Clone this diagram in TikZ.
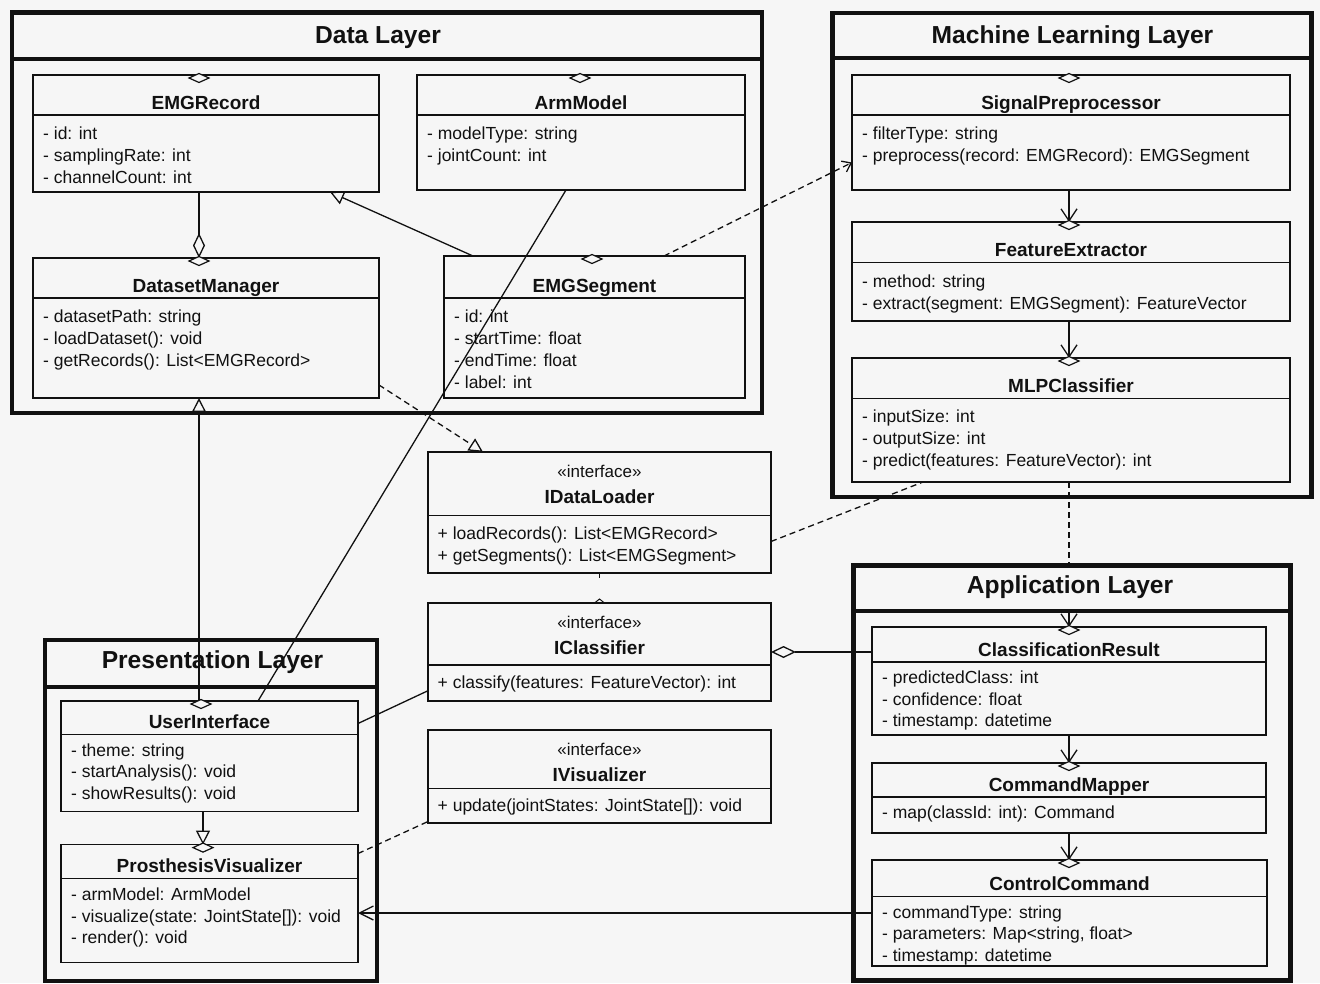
\documentclass[tikz,border=0pt]{standalone}
\usepackage{fontspec}
\setmainfont{Liberation Sans}
\usetikzlibrary{arrows.meta,calc}

\definecolor{paper}{RGB}{246,246,246}
\definecolor{ink}{RGB}{17,17,17}

% spacing of member lines (baseline skip and first baseline below the separator)
\def\bodyskip{22}
\def\bodyoff{24.3}

\tikzset{
  layerframe/.style={draw=ink, line width=4.5pt, inner sep=0pt, outer sep=0pt},
  layersep/.style={draw=ink, line width=4pt},
  layertitle/.style={font=\fontsize{24.6}{28}\selectfont\bfseries, text=ink, inner sep=0pt},
  classbox/.style={draw=ink, fill=paper, line width=1.3pt, inner sep=0pt, outer sep=0pt},
  sepline/.style={draw=ink, line width=1.3pt},
  classtitle/.style={font=\fontsize{19}{22}\selectfont\bfseries, text=ink, inner sep=0pt},
  stereo/.style={font=\fontsize{17}{20}\selectfont, text=ink, inner sep=0pt},
  members/.style={font=\fontsize{17.5}{\bodyskip}\selectfont, text=ink, align=left, inner sep=0pt},
  conn/.style={draw=ink, line width=1.3pt},
  dep/.style={conn, dash pattern=on 6pt off 4pt},
  gen/.style={-{Triangle[open, length=14pt, width=14pt]}},
  nav/.style={-{Straight Barb[length=12pt, width=16pt]}},
  agg/.style={-{Diamond[open, length=25pt, width=12pt]}},
  enddia/.style={draw=ink, fill=paper, line width=1.2pt},
}

% layer frame: name, left, top, right, bottom, title separator, title x, title baseline, title
\newcommand\umllayer[9]{%
  \node[layerframe, minimum width={(#4)-(#2)}, minimum height={(#5)-(#3)}]
    (#1) at ({((#2)+(#4))/2},{((#3)+(#5))/2}) {};
  \draw[layersep] (#2,#6) -- (#4,#6);
  \node[layertitle, anchor=base] (#1-title) at (#7,#8) {#9};
}

% class box: name, left, top, right, bottom, separator, title, members
\newcommand\umlclass[8]{%
  \node[classbox, minimum width={(#4)-(#2)}, minimum height={(#5)-(#3)}]
    (#1) at ({((#2)+(#4))/2},{((#3)+(#5))/2}) {};
  \draw[sepline] (#2,#6) -- (#4,#6);
  \node[classtitle, anchor=base] (#1-title) at ({((#2)+(#4))/2},{(#6)-6}) {#7};
  \node[members, anchor=north west] (#1-members)
    at ({(#2)+10},{(#6)+\bodyoff-0.7*\bodyskip}) {\strut #8};
}

% interface box: name, left, top, right, bottom, separator, title, operations
\newcommand\umliface[8]{%
  \node[classbox, minimum width={(#4)-(#2)}, minimum height={(#5)-(#3)}]
    (#1) at ({((#2)+(#4))/2},{((#3)+(#5))/2}) {};
  \draw[sepline] (#2,#6) -- (#4,#6);
  \node[stereo, anchor=base] (#1-stereo) at ({((#2)+(#4))/2},{(#3)+25}) {«interface»};
  \node[classtitle, anchor=base] (#1-title) at ({((#2)+(#4))/2},{(#3)+51.5}) {#7};
  \node[members, anchor=north west] (#1-members)
    at ({(#2)+9.5},{(#6)+\bodyoff-0.7*\bodyskip}) {\strut #8};
}

% small flat diamond sitting on the top edge of a class box
\newcommand\topdia[2]{%
  \filldraw[enddia] ({#1-10},{#2+3}) -- (#1,{#2-1.5}) -- ({#1+10},{#2+3}) -- (#1,{#2+7.5}) -- cycle;
}

\begin{document}
\begin{tikzpicture}[x=1pt, y=-1pt]
  \useasboundingbox (0,0) rectangle (1320,983);
  \fill[paper] (0,0) rectangle (1320,983);

  % ---------------- layers ----------------
  \umllayer{datalayer}{12}{12.5}{762}{413}{59}{378}{43.5}{Data Layer}
  \umllayer{mllayer}{832.7}{13}{1311.7}{497}{58}{1072.5}{43.5}{Machine Learning Layer}
  \umllayer{applayer}{853.3}{565.7}{1290.7}{980.5}{610.7}{1070}{593.3}{Application Layer}
  \umllayer{preslayer}{45}{640}{377}{981}{686.5}{212.5}{668.5}{Presentation Layer}

  % ---------------- data layer ----------------
  \umlclass{rec}{33}{75}{379}{192}{115}{EMGRecord}
    {- id: int\\- samplingRate: int\\- channelCount: int}
  \umlclass{dm}{33}{258}{379}{398}{298}{DatasetManager}
    {- datasetPath: string\\- loadDataset(): void\\- getRecords(): List<EMGRecord>}
  \umlclass{am}{417}{75}{745}{190}{115}{ArmModel}
    {- modelType: string\\- jointCount: int}
  \umlclass{seg}{444}{256}{745}{398}{298}{EMGSegment}
    {- id: int\\- startTime: float\\- endTime: float\\- label: int}

  % ---------------- machine learning layer ----------------
  \umlclass{sp}{852}{75}{1290}{190}{115}{SignalPreprocessor}
    {- filterType: string\\- preprocess(record: EMGRecord): EMGSegment}
  \umlclass{fe}{852}{222}{1290}{321}{262.7}{FeatureExtractor}
    {- method: string\\- extract(segment: EMGSegment): FeatureVector}
  \umlclass{mlp}{852}{358}{1290}{482}{398.3}{MLPClassifier}
    {- inputSize: int\\- outputSize: int\\- predict(features: FeatureVector): int}

  % ---------------- interfaces ----------------
  \def\bodyoff{23.3}
  \umliface{idl}{428}{452}{771}{573}{515.7}{IDataLoader}
    {+ loadRecords(): List<EMGRecord>\\+ getSegments(): List<EMGSegment>}
  \umliface{icl}{428}{603}{771}{701}{665}{IClassifier}
    {+ classify(features: FeatureVector): int}
  \umliface{ivis}{428}{730}{771}{823}{788.3}{IVisualizer}
    {+ update(jointStates: JointState[]): void}

  % ---------------- application and presentation layers ----------------
  \def\bodyskip{21.3}
  \def\bodyoff{21.7}
  \umlclass{cr}{872}{627}{1266}{735}{662}{ClassificationResult}
    {- predictedClass: int\\- confidence: float\\- timestamp: datetime}
  \umlclass{cm}{872}{763}{1266}{833}{797}{CommandMapper}
    {- map(classId: int): Command}
  \umlclass{cc}{872}{860}{1267}{966}{896.7}{ControlCommand}
    {- commandType: string\\- parameters: Map<string, float>\\- timestamp: datetime}
  \umlclass{ui}{61}{701}{358}{811.5}{734.6}{UserInterface}
    {- theme: string\\- startAnalysis(): void\\- showResults(): void}
  \umlclass{pv}{61}{844.6}{358}{962.5}{878.8}{ProsthesisVisualizer}
    {- armModel: ArmModel\\- visualize(state: JointState[]): void\\- render(): void}

  % ---------------- connectors ----------------
  \draw[conn, agg] ([xshift=-7pt]rec.south) -- ([xshift=-7pt]dm.north);
  \draw[conn, gen] ([xshift=29pt]seg.north west) -- ([xshift=-49pt]rec.south east);
  \draw[conn] ([xshift=-15pt]am.south) -- ([xshift=-100pt]ui.north east);
  \draw[conn, gen] ([xshift=-10.5pt]ui.north) -- ([xshift=-7pt]dm.south);
  \draw[dep, gen] ([yshift=13pt]dm.south east) -- ([xshift=55pt]idl.north west);
  \draw[dep, -{Straight Barb[length=8pt, width=12pt]}]
    ([xshift=-81pt]seg.north east) -- ([yshift=-30pt]sp.west);
  \draw[conn, nav] ([xshift=-2pt]sp.south) -- ([xshift=-2pt]fe.north);
  \draw[conn, nav] ([xshift=-2pt]fe.south) -- ([xshift=-2pt]mlp.north);
  \draw[dep] ([xshift=-2pt]mlp.south) -- ([xshift=-3pt]applayer.north);
  \coordinate (appin) at (1069,612.7);
  \draw[conn, nav] (appin) -- (cr.north);
  \draw[conn, nav] (cr.south) -- (cm.north);
  \draw[conn, nav] (cm.south) -- ([xshift=-0.5pt]cc.north);
  \draw[dep] ([yshift=-29pt]idl.east) -- ([xshift=71pt]mlp.south west);
  \draw[conn, agg] ([yshift=29pt]cr.west) -- (icl.east);
  \draw[conn] ([yshift=32.75pt]ui.east) -- ([yshift=10.3pt]icl.south west);
  \draw[conn, gen] ([xshift=-6.5pt]ui.south) -- ([xshift=-6.5pt]pv.north);
  \draw[dep] ([yshift=50pt]pv.east) -- ([yshift=1.5pt]ivis.south west);
  \draw[conn, -{Straight Barb[length=14pt, width=14pt]}] (cc.west) -- (pv.east |- cc.west);
  \draw[conn] (idl.south) -- ++(0,5);
  \draw[conn, line width=1pt] ([xshift=-5pt]icl.north) -- ([yshift=4pt]icl.north) -- ([xshift=5pt]icl.north);

  % ---------------- end diamonds on the box tops ----------------
  \topdia{199}{75}
  \topdia{199}{258}
  \topdia{580}{75}
  \topdia{592}{256}
  \topdia{1069}{75}
  \topdia{1069}{222}
  \topdia{1069}{358}
  \topdia{1069}{627}
  \topdia{1069}{763}
  \topdia{1069}{860}
  \topdia{201}{701}
  \topdia{203}{844.6}
\end{tikzpicture}
\end{document}
